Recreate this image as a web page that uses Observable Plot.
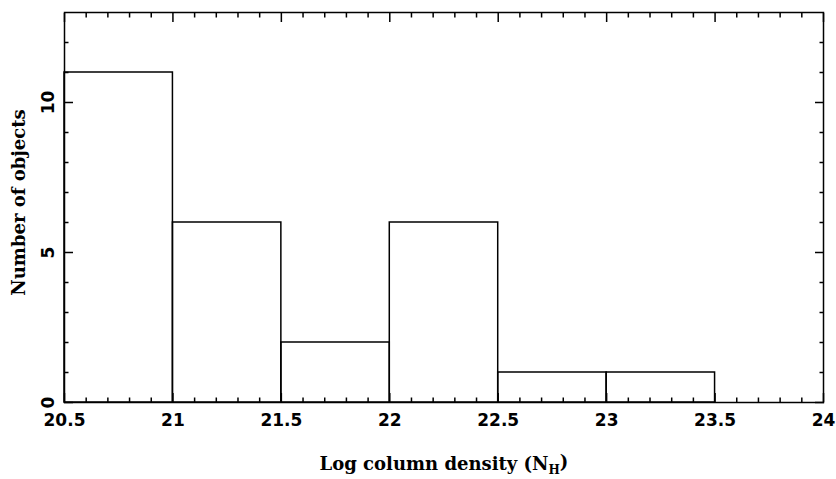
<!DOCTYPE html>
<html><head><meta charset="utf-8">
<script src="https://cdn.jsdelivr.net/npm/d3@7"></script>
<script src="https://cdn.jsdelivr.net/npm/@observablehq/plot@0.6"></script>
<style>body{margin:0;background:#fff}</style>
</head><body><div id="chart"></div>
<script>
// Histogram bins: Log column density (N_H)
const binStart = [20.5, 21, 21.5, 22, 22.5, 23];
const binEnd   = [21, 21.5, 22, 22.5, 23, 23.5];
const counts   = [11, 6, 2, 6, 1, 1];

const xMajorTicks = [20.5, 21, 21.5, 22, 22.5, 23, 23.5, 24];
const xTickLabels = ["20.5", "21", "21.5", "22", "22.5", "23", "23.5", "24"];
const xMinorTicks = d3.range(206, 240).filter(v => v % 5 !== 0).map(v => v / 10);
const yMajorTicks = [0, 5, 10];
const yTickLabels = ["0", "5", "10"];
const yMinorTicks = [1, 2, 3, 4, 6, 7, 8, 9, 11, 12];

const xTitle = "Log column density (N_H)";
const yTitle = "Number of objects";

const bins = binStart.map((s, i) => ({x1: s, x2: binEnd[i], count: counts[i]}));

const numFont = "'DejaVu Sans', sans-serif";
const titleFont = "'DejaVu Serif', 'Liberation Serif', serif";
const sw = 1.5;

const chart = Plot.plot({
  width: 836,
  height: 479,
  marginLeft: 64,
  marginRight: 13,
  marginTop: 12,
  marginBottom: 77,
  style: {background: "white", color: "black", overflow: "visible"},
  x: {domain: [20.5, 24], axis: null, label: null},
  y: {domain: [0, 13], axis: null, label: null},
  marks: [
    Plot.rectY(bins, {x1: "x1", x2: "x2", y: "count", fill: "none", stroke: "black", strokeWidth: sw}),
    Plot.frame({stroke: "black", strokeWidth: sw}),
    // major and minor ticks (inward) on all four sides
    Plot.axisX(xMajorTicks, {anchor: "bottom", tickSize: -9, fill: "none", strokeWidth: sw, label: null}),
    Plot.axisX(xMajorTicks, {anchor: "top", tickSize: -9, fill: "none", strokeWidth: sw, label: null}),
    Plot.axisX(xMinorTicks, {anchor: "bottom", tickSize: -4.5, fill: "none", strokeWidth: sw, label: null}),
    Plot.axisX(xMinorTicks, {anchor: "top", tickSize: -4.5, fill: "none", strokeWidth: sw, label: null}),
    Plot.axisY(yMajorTicks, {anchor: "left", tickSize: -9, fill: "none", strokeWidth: sw, label: null}),
    Plot.axisY(yMajorTicks, {anchor: "right", tickSize: -9, fill: "none", strokeWidth: sw, label: null}),
    Plot.axisY(yMinorTicks, {anchor: "left", tickSize: -4.5, fill: "none", strokeWidth: sw, label: null}),
    Plot.axisY(yMinorTicks, {anchor: "right", tickSize: -4.5, fill: "none", strokeWidth: sw, label: null}),
    // tick labels
    Plot.axisX(xMajorTicks, {anchor: "bottom", tickSize: 0, tickPadding: 11, label: null,
      tickFormat: d => xTickLabels[xMajorTicks.indexOf(d)], fontSize: 17, fontWeight: "bold", fontFamily: numFont}),
    Plot.axisY(yMajorTicks, {anchor: "left", tickSize: 0, tickPadding: 11, tickRotate: -90, label: null,
      textAnchor: "middle", lineAnchor: "bottom",
      tickFormat: d => yTickLabels[yMajorTicks.indexOf(d)], fontSize: 17, fontWeight: "bold", fontFamily: numFont}),
    // axis titles
    Plot.text([xTitle], {text: d => d, frameAnchor: "bottom", dy: 62, lineAnchor: "middle", textAnchor: "middle",
      fontSize: 18, fontWeight: "bold", fontFamily: titleFont, fill: "black"}),
    Plot.text([yTitle], {text: d => d, frameAnchor: "left", dx: -45, dy: -5, rotate: -90,
      lineAnchor: "middle", textAnchor: "middle",
      fontSize: 18, fontWeight: "bold", fontFamily: titleFont, fill: "black"})
  ]
});

// render subscript H in the x title
d3.select(chart).selectAll("text").each(function() {
  if (this.textContent === xTitle) {
    const parts = xTitle.split("_");
    const el = d3.select(this);
    el.text(null);
    el.append("tspan").text(parts[0]);
    el.append("tspan").attr("dy", "0.3em").attr("font-size", "12").text(parts[1].slice(0, 1));
    el.append("tspan").attr("dy", "-0.3em").text(parts[1].slice(1));
  }
});

document.getElementById("chart").appendChild(chart);
</script>
</body></html>
